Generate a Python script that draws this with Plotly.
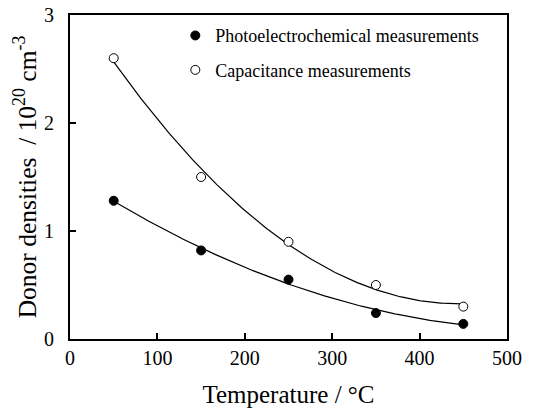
import numpy as np
import plotly.graph_objects as go

# Measured donor densities (10^20 cm^-3) vs. annealing temperature (°C)
temperature = [50, 150, 250, 350, 450]
photo_density = [1.28, 0.82, 0.55, 0.24, 0.14]
capacitance_density = [2.60, 1.50, 0.90, 0.50, 0.30]

x_ticks = [0, 100, 200, 300, 400, 500]
y_ticks = [0, 1, 2, 3]

FONT = "Liberation Serif"

# Smooth quadratic trend curves through each data set
xs = np.linspace(min(temperature), max(temperature), 200)
photo_fit = np.polyval(np.polyfit(temperature, photo_density, 2), xs)
cap_fit = np.polyval(np.polyfit(temperature, capacitance_density, 2), xs)

fig = go.Figure()
fig.add_trace(go.Scatter(x=xs, y=cap_fit, mode="lines",
                         line=dict(color="black", width=1.2), showlegend=False))
fig.add_trace(go.Scatter(x=xs, y=photo_fit, mode="lines",
                         line=dict(color="black", width=1.2), showlegend=False))
fig.add_trace(go.Scatter(
    x=temperature, y=photo_density, mode="markers",
    name="Photoelectrochemical measurements", legendgroup="a",
    marker=dict(symbol="circle", size=9, color="black",
                line=dict(color="black", width=1))))
fig.add_trace(go.Scatter(
    x=temperature, y=capacitance_density, mode="markers",
    name="Capacitance measurements", legendgroup="b",
    marker=dict(symbol="circle", size=9, color="white",
                line=dict(color="black", width=1))))

axis_common = dict(
    showline=True, linecolor="black", linewidth=2, mirror=True,
    ticks="inside", ticklen=6, tickwidth=1.5, tickcolor="black",
    showgrid=False, zeroline=False, automargin=False,
    tickfont=dict(family=FONT, size=20, color="black"),
)

fig.update_xaxes(range=[0, 500], tickvals=x_ticks,
                 title=dict(text="Temperature / °C",
                            font=dict(family=FONT, size=25, color="black"),
                            standoff=20),
                 **axis_common)
fig.update_yaxes(range=[0, 3], tickvals=y_ticks, ticklabelstandoff=10,
                 title=dict(text="Donor densities  / 10<sup>20</sup> cm<sup>-3</sup>",
                            font=dict(family=FONT, size=25.5, color="black"),
                            standoff=0),
                 **axis_common)

fig.update_layout(
    width=534, height=408,
    margin=dict(l=70, r=27, t=15, b=69),
    paper_bgcolor="white", plot_bgcolor="white",
    font=dict(family=FONT, color="black"),
    legend=dict(x=0.241, y=0.993, xanchor="left", yanchor="top",
                bgcolor="rgba(0,0,0,0)", borderwidth=0,
                traceorder="grouped", tracegroupgap=8,
                font=dict(family=FONT, size=18, color="black")),
)

fig.write_html("out.html")
